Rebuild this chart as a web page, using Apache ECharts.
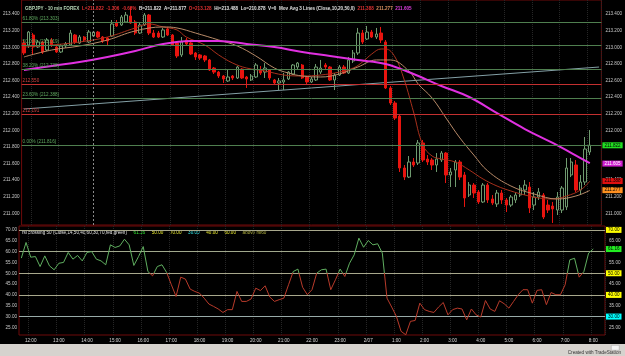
<!DOCTYPE html>
<html>
<head>
<meta charset="utf-8">
<script src="https://cdn.jsdelivr.net/npm/echarts@6/dist/echarts.min.js"></script>
<style>
  html, body { margin: 0; padding: 0; background: #000; }
  #chart { width: 625px; height: 356px; }
</style>
</head>
<body>
<div id="chart"></div>
<script>
// 10 min bars, 11:40 -> 8:20 (last two slots empty)
const categories = [];
for (let m = 11 * 60 + 40; m <= 32 * 60 + 20; m += 10) {
  categories.push((Math.floor(m / 60) % 24) + ":" + String(m % 60).padStart(2, "0"));
}

// [open, close, low, high]
const candles = [
  [213.051, 212.931, 212.907, 213.087], [213.027, 213.183, 212.991, 213.196],
  [213.147, 213.003, 212.907, 213.171], [213.003, 213.063, 212.991, 213.087], [213.063, 212.943, 212.919, 213.075],
  [212.967, 213.087, 212.955, 213.111], [213.087, 213.027, 213.003, 213.111], [213.003, 212.943, 212.931, 213.027],
  [212.943, 213.015, 212.931, 213.039], [213.015, 213.039, 212.991, 213.063], [213.027, 213.171, 213.015, 213.208],
  [213.147, 213.063, 213.039, 213.159], [213.051, 213.123, 213.039, 213.147], [213.123, 213.087, 213.063, 213.135],
  [213.063, 213.183, 213.051, 213.208], [213.135, 213.183, 213.123, 213.196], [213.183, 213.123, 213.111, 213.196],
  [213.123, 213.075, 213.051, 213.135], [213.111, 213.075, 213.027, 213.123], [213.135, 213.280, 213.123, 213.328],
  [213.292, 213.256, 213.244, 213.328], [213.268, 213.364, 213.256, 213.388], [213.304, 213.388, 213.292, 213.424],
  [213.376, 213.292, 213.280, 213.484], [213.304, 213.171, 213.147, 213.328], [213.171, 213.268, 213.159, 213.304],
  [213.268, 213.388, 213.256, 213.412], [213.388, 213.171, 213.147, 213.400], [213.171, 213.123, 213.111, 213.208],
  [213.171, 213.123, 213.111, 213.196], [213.123, 213.208, 213.111, 213.232], [213.220, 213.147, 213.135, 213.244],
  [213.147, 213.027, 213.015, 213.159], [213.051, 212.895, 212.871, 213.063], [212.907, 213.063, 212.883, 213.123],
  [213.087, 213.039, 213.015, 213.111], [213.051, 212.919, 212.907, 213.063], [212.931, 212.883, 212.847, 212.943],
  [212.907, 212.871, 212.847, 212.919], [212.895, 212.847, 212.822, 212.907], [212.847, 212.726, 212.714, 212.859],
  [212.750, 212.701, 212.678, 212.762], [212.701, 212.654, 212.630, 212.714], [212.654, 212.618, 212.570, 212.666],
  [212.594, 212.642, 212.582, 212.726], [212.654, 212.630, 212.606, 212.666], [212.630, 212.762, 212.618, 212.774],
  [212.738, 212.630, 212.618, 212.750], [212.642, 212.618, 212.510, 212.654], [212.606, 212.654, 212.594, 212.678],
  [212.642, 212.786, 212.630, 212.810], [212.726, 212.690, 212.666, 212.774], [212.701, 212.750, 212.630, 212.810],
  [212.726, 212.630, 212.606, 212.738], [212.606, 212.570, 212.546, 212.618], [212.570, 212.594, 212.485, 212.630],
  [212.582, 212.606, 212.485, 212.690], [212.618, 212.701, 212.606, 212.714], [212.678, 212.786, 212.666, 212.798],
  [212.762, 212.810, 212.738, 212.822], [212.786, 212.630, 212.618, 212.798], [212.642, 212.582, 212.558, 212.654],
  [212.582, 212.618, 212.570, 212.642], [212.606, 212.762, 212.594, 212.798], [212.701, 212.750, 212.678, 212.847],
  [212.786, 212.762, 212.738, 212.810], [212.762, 212.606, 212.594, 212.774], [212.606, 212.666, 212.485, 212.690],
  [212.666, 212.762, 212.654, 212.786], [212.762, 212.690, 212.678, 212.786], [212.690, 212.847, 212.678, 212.883],
  [212.834, 212.931, 212.810, 212.967], [212.931, 213.171, 212.907, 213.232], [213.171, 213.063, 213.039, 213.208],
  [213.099, 213.183, 213.087, 213.256], [213.183, 213.123, 213.111, 213.208], [213.123, 213.159, 213.099, 213.232],
  [213.171, 213.087, 213.051, 213.244], [213.063, 212.510, 212.497, 213.087], [212.510, 212.329, 212.305, 212.534],
  [212.329, 212.148, 212.124, 212.353], [212.172, 211.547, 211.499, 212.197], [211.547, 211.438, 211.402, 211.583],
  [211.438, 211.619, 211.426, 211.691], [211.619, 211.583, 211.559, 211.667], [211.607, 211.848, 211.583, 211.884],
  [211.848, 211.643, 211.619, 211.884], [211.655, 211.619, 211.583, 211.703], [211.643, 211.583, 211.523, 211.667],
  [211.583, 211.655, 211.499, 211.727], [211.643, 211.727, 211.619, 211.751], [211.727, 211.463, 211.366, 211.739],
  [211.463, 211.499, 211.318, 211.547], [211.523, 211.619, 211.318, 211.643], [211.619, 211.438, 211.402, 211.643],
  [211.463, 211.186, 211.078, 211.499], [211.222, 211.342, 211.198, 211.378], [211.342, 211.246, 211.186, 211.366],
  [211.258, 211.138, 211.114, 211.282], [211.138, 211.342, 211.126, 211.366], [211.342, 211.162, 211.126, 211.366],
  [211.174, 211.126, 211.101, 211.222], [211.114, 211.246, 211.078, 211.282], [211.246, 211.162, 211.114, 211.282],
  [211.162, 211.101, 211.017, 211.186], [211.101, 211.198, 211.078, 211.222], [211.162, 211.222, 211.126, 211.258],
  [211.222, 211.306, 211.198, 211.342], [211.282, 211.342, 211.222, 211.402], [211.318, 211.066, 211.005, 211.378],
  [211.101, 211.198, 211.041, 211.258], [211.198, 211.258, 211.162, 211.306], [211.222, 210.957, 210.933, 211.246],
  [211.101, 211.041, 211.005, 211.162], [211.089, 211.054, 210.885, 211.138], [211.041, 211.198, 210.981, 211.258],
  [211.041, 211.306, 211.005, 211.330], [211.078, 211.547, 211.041, 211.667], [211.463, 211.619, 211.438, 211.667],
  [211.583, 211.282, 211.258, 211.643], [211.282, 211.378, 211.222, 211.463], [211.378, 211.775, 211.342, 211.920],
  [211.739, 211.822, 211.703, 212.004]
];

// moving averages
const ma10 = [
  ["11:40", 213.003], ["12:40", 213.027], ["13:40", 213.063], ["14:40", 213.123], ["15:40", 213.232],
  ["16:10", 213.280], ["16:40", 213.244], ["17:10", 213.208], ["17:30", 213.123], ["18:10", 213.027],
  ["18:40", 212.907], ["19:10", 212.810], ["19:40", 212.750], ["20:20", 212.714], ["21:00", 212.666],
  ["21:40", 212.654], ["22:20", 212.666], ["23:00", 212.701], ["23:30", 212.750], ["23:50", 212.822],
  ["0:10", 212.919], ["0:30", 212.979], ["0:40", 212.979], ["1:00", 212.883], ["1:20", 212.606],
  ["1:40", 212.221], ["2:00", 211.824], ["2:20", 211.691], ["2:40", 211.655], ["3:10", 211.619],
  ["3:40", 211.523], ["4:10", 211.414], ["4:40", 211.330], ["5:10", 211.270], ["5:40", 211.222],
  ["6:10", 211.186], ["6:40", 211.174], ["7:10", 211.210], ["7:40", 211.282], ["8:00", 211.388]
];
const ma20 = [
  ["11:40", 212.883], ["12:40", 212.967], ["13:40", 213.015], ["14:40", 213.087], ["15:40", 213.196],
  ["16:40", 213.244], ["17:10", 213.232], ["17:50", 213.171], ["18:40", 213.087], ["19:20", 213.015],
  ["20:00", 212.895], ["20:40", 212.750], ["21:10", 212.690], ["21:40", 212.654], ["22:20", 212.642],
  ["23:00", 212.678], ["23:40", 212.762], ["0:20", 212.847], ["0:50", 212.847], ["1:30", 212.714],
  ["1:50", 212.558], ["2:20", 212.389], ["2:50", 212.148], ["3:20", 211.908], ["3:50", 211.703],
  ["4:20", 211.511], ["5:10", 211.330], ["6:00", 211.234], ["6:50", 211.174], ["7:30", 211.210],
  ["8:00", 211.277]
];
const ma50 = [
  ["11:40", 212.726], ["12:40", 212.774], ["13:40", 212.822], ["14:40", 212.883], ["15:40", 212.955],
  ["16:40", 213.039], ["17:40", 213.075], ["18:40", 213.075], ["19:40", 213.039], ["20:40", 213.003],
  ["21:40", 212.943], ["22:40", 212.895], ["23:40", 212.847], ["0:40", 212.798], ["1:40", 212.678],
  ["2:40", 212.534], ["3:40", 212.401], ["4:40", 212.207], ["5:40", 212.016], ["6:40", 211.848],
  ["7:40", 211.667], ["8:00", 211.605]
];

const rsi = [
  57.0, 64.2,
  57.4, 57.7, 53.1, 58.0, 53.4, 51.6,
  54.6, 55.0, 59.6, 56.5, 58.2, 55.7,
  59.6, 60.0, 56.5, 55.7, 53.9, 63.1,
  61.9, 62.6, 65.7, 63.1, 53.6, 57.7,
  62.3, 50.8, 48.8, 53.1, 53.9, 50.3,
  44.7, 39.3, 48.2, 47.3, 42.7, 41.6,
  40.8, 38.5, 35.8, 34.7, 33.5, 31.9,
  33.2, 33.2, 41.6, 37.0, 37.0, 38.1,
  43.1, 42.0, 44.2, 39.0, 37.0, 37.8,
  38.5, 44.7, 50.8, 51.9, 43.5, 40.1,
  42.4, 50.0, 51.6, 51.9, 42.4, 47.0,
  51.9, 48.5, 54.6, 58.5, 66.2, 62.0,
  65.1, 63.1, 63.6, 59.3, 38.5, 34.4,
  30.1, 23.2, 21.6, 27.8, 28.2, 36.2,
  33.2, 32.4, 31.9, 34.4, 36.5, 30.8,
  33.2, 33.9, 33.5, 28.5, 33.5, 30.8,
  29.8, 37.4, 33.5, 32.4, 37.3, 35.9,
  33.9, 37.0, 40.1, 42.4, 42.4, 36.2,
  42.1, 42.4, 35.5, 41.1, 40.1, 40.1,
  44.7, 56.2, 56.9, 48.2, 50.8, 59.3,
  61.2
];

const fibLevels = [213.303, 213.019, 212.738, 212.388, 211.816];
const fibNames = ["61.80%", "50.00%", "38.20%", "23.60%", "0.00%"];
const redLevels = [212.550, 212.191];
const trendLine = [["11:40", 212.257], ["8:20", 212.762]];
const priceTicks = [211.0, 211.2, 211.4, 211.6, 211.8, 212.0, 212.2, 212.4, 212.6, 212.8, 213.0, 213.2, 213.4];
const rsiTicksLeft = [25, 30, 35, 40, 45, 50, 55, 60, 65, 70];
const rsiTicksRight = [25, 35, 45, 55, 65];
const rsiLevels = [70, 60, 50, 40, 30];
const lastClose = 211.822;
const lastRsi = 61.16;

const FONT = "Liberation Sans";
const FS = 4.6;
const hourTick = (i, v) => v.endsWith(":00");

// panel geometry
const RSI_TOP = 226, RSI_H = 109, RSI_MIN = 21.5, RSI_MAX = 71.8;

const chart = echarts.init(document.getElementById("chart"), null, { renderer: "canvas" });

function box(value, text, bg, fg) {
  return {
    yAxis: value,
    lineStyle: { color: "rgba(0,0,0,0)", width: 0 },
    label: {
      show: true, position: "end", distance: 1, formatter: text,
      backgroundColor: bg, color: fg, padding: [1, 2, 0, 2],
      fontSize: FS, fontFamily: FONT
    }
  };
}

const fibLines = fibLevels.map((v, k) => ({
  yAxis: v,
  lineStyle: { color: "#4f7f4f", width: 1, type: "solid" },
  label: {
    show: true, position: "insideStartTop", distance: 1,
    formatter: fibNames[k] + " (" + v.toFixed(3) + ")",
    color: "#5fa85f", fontSize: FS, fontFamily: FONT
  }
}));
const redLines = redLevels.map(v => ({
  yAxis: v,
  lineStyle: { color: "#c43030", width: 1, type: "solid" },
  label: {
    show: true, position: "insideStartTop", distance: 1,
    formatter: v.toFixed(3), color: "#d04040", fontSize: FS, fontFamily: FONT
  }
}));

const rsiLevelColors = { 70: "#a8a88c", 60: "#a0a88c", 50: "#a8a88c", 40: "#a8a88c", 30: "#98aaa8" };
const rsiBoxes = { 70: "#ffff00", 50: "#ffff00", 40: "#ffff00", 30: "#00ffff" };
const rsiLines = rsiLevels.map(v => {
  const item = {
    yAxis: v,
    lineStyle: { color: rsiLevelColors[v], width: 1, type: "solid" },
    label: { show: false }
  };
  if (rsiBoxes[v]) {
    item.label = {
      show: true, position: "end", distance: 1, formatter: v.toFixed(2),
      backgroundColor: rsiBoxes[v], color: "#000", padding: [1, 2, 0, 2],
      fontSize: FS, fontFamily: FONT
    };
  }
  return item;
});
rsiLines.push(box(lastRsi, lastRsi.toFixed(2), "#22ee22", "#000"));

// rsi line: green above 50, red below (gradient in pixel space of the rsi panel)
const cut = (RSI_MAX - 50) / (RSI_MAX - RSI_MIN);
const rsiColor = new echarts.graphic.LinearGradient(0, RSI_TOP, 0, RSI_TOP + RSI_H, [
  { offset: 0, color: "#5fae5f" }, { offset: cut, color: "#5fae5f" },
  { offset: cut, color: "#b83a2a" }, { offset: 1, color: "#b83a2a" }
], true);

const axisText = { color: "#c8c8c8", fontSize: FS, fontFamily: FONT };

chart.setOption({
  animation: false,
  backgroundColor: "#000",
  title: {
    left: 20, top: 1,
    text: "{g|GBPJPY - 10 min FOREX}  {r|L=211.822  -1.306  -0.63%}  {w|B=211.822  A=211.877}  {r|O=213.128}  {w|Hi=213.488  Lo=210.878  V=0  Mov Avg 3 Lines (Close,10,20,50,0)}  {r|211.388}  {o|211.277}  {m|211.605}",
    textStyle: {
      fontSize: FS, fontFamily: FONT, color: "#ddd",
      rich: {
        g: { color: "#b8d8b8", fontSize: FS, fontFamily: FONT },
        w: { color: "#e0e0e0", fontSize: FS, fontFamily: FONT },
        r: { color: "#e03030", fontSize: FS, fontFamily: FONT },
        o: { color: "#d89060", fontSize: FS, fontFamily: FONT },
        m: { color: "#e040e0", fontSize: FS, fontFamily: FONT }
      }
    }
  },
  grid: [
    { left: 19, right: 20, top: 0, height: 225, show: true, borderColor: "#6e0a0a", borderWidth: 1, backgroundColor: "#000" },
    { left: 19, right: 20, top: RSI_TOP, height: RSI_H, show: true, borderColor: "#6e0a0a", borderWidth: 1, backgroundColor: "#000" }
  ],
  xAxis: [
    {
      type: "category", gridIndex: 0, data: categories, boundaryGap: true,
      axisLine: { show: false }, axisTick: { show: false }, axisLabel: { show: false },
      splitLine: { show: true, interval: hourTick, lineStyle: { color: "#262626", type: "dotted" } }
    },
    {
      type: "category", gridIndex: 1, data: categories, boundaryGap: true,
      axisLine: { show: false }, axisTick: { show: false },
      axisLabel: {
        interval: hourTick, margin: 3, ...axisText, color: "#d8d8d8",
        formatter: v => (v === "0:00" ? "2/07" : v)
      },
      splitLine: { show: true, interval: hourTick, lineStyle: { color: "#262626", type: "dotted" } }
    }
  ],
  yAxis: [
    {
      type: "value", gridIndex: 0, position: "left", min: 210.861, max: 213.5685, scale: true,
      axisLine: { show: false }, axisTick: { show: false }, splitLine: { show: false },
      axisLabel: { customValues: priceTicks, margin: 2, formatter: v => v.toFixed(3), ...axisText }
    },
    {
      type: "value", gridIndex: 0, position: "right", min: 210.861, max: 213.5685, scale: true,
      axisLine: { show: false }, axisTick: { show: false }, splitLine: { show: false },
      axisLabel: { customValues: priceTicks, margin: 4, formatter: v => v.toFixed(3), ...axisText }
    },
    {
      type: "value", gridIndex: 1, position: "left", min: RSI_MIN, max: RSI_MAX,
      axisLine: { show: false }, axisTick: { show: false }, splitLine: { show: false },
      axisLabel: { customValues: rsiTicksLeft, margin: 2, formatter: v => v.toFixed(2), ...axisText }
    },
    {
      type: "value", gridIndex: 1, position: "right", min: RSI_MIN, max: RSI_MAX,
      axisLine: { show: false }, axisTick: { show: false }, splitLine: { show: false },
      axisLabel: { customValues: rsiTicksRight, margin: 4, formatter: v => v.toFixed(2), ...axisText }
    }
  ],
  series: [
    {
      name: "GBPJPY", type: "candlestick", xAxisIndex: 0, yAxisIndex: 0,
      data: candles, barWidth: "62%",
      itemStyle: {
        color: "#000", color0: "#e8140f",
        borderColor: "#6f9a6f", borderColor0: "#e8140f", borderWidth: 1
      },
      markLine: {
        silent: true, symbol: "none", animation: false,
        data: [...fibLines, ...redLines, box(lastClose, lastClose.toFixed(3), "#22dd22", "#000"),
          { xAxis: "14:10", lineStyle: { color: "#8a8a8a", type: [2, 2], width: 1 }, label: { show: false } }]
      }
    },
    {
      name: "trend", type: "line", xAxisIndex: 0, yAxisIndex: 0, data: trendLine,
      symbol: "none", lineStyle: { color: "#84a0a6", width: 1 }, z: 1
    },
    {
      name: "MA10", type: "line", xAxisIndex: 0, yAxisIndex: 0, data: ma10, smooth: 0.4,
      connectNulls: true, symbol: "none", lineStyle: { color: "#a8301c", width: 1 },
      markLine: { silent: true, symbol: "none", data: [box(211.388, "211.388", "#e01010", "#000")] }
    },
    {
      name: "MA20", type: "line", xAxisIndex: 0, yAxisIndex: 0, data: ma20, smooth: 0.4,
      connectNulls: true, symbol: "none", lineStyle: { color: "#b88a68", width: 1 },
      markLine: { silent: true, symbol: "none", data: [box(211.277, "211.277", "#ff9020", "#000")] }
    },
    {
      name: "MA50", type: "line", xAxisIndex: 0, yAxisIndex: 0, data: ma50, smooth: 0.4,
      connectNulls: true, symbol: "none", lineStyle: { color: "#e030e0", width: 2 },
      markLine: { silent: true, symbol: "none", data: [box(211.605, "211.605", "#d020d0", "#fff")] }
    },
    {
      name: "RSI", type: "line", xAxisIndex: 1, yAxisIndex: 2, data: rsi,
      symbol: "none", lineStyle: { width: 1, color: rsiColor }, z: 3,
      markLine: { silent: true, symbol: "none", z: 2, data: rsiLines }
    }
  ],
  graphic: [
    {
      type: "text", left: 22, top: 227, silent: true,
      style: {
        rich: {
          w: { fill: "#e0e0e0", fontSize: FS, fontFamily: FONT },
          g: { fill: "#33ee33", fontSize: FS, fontFamily: FONT },
          y: { fill: "#e8e830", fontSize: FS, fontFamily: FONT },
          c: { fill: "#30e8e8", fontSize: FS, fontFamily: FONT },
          o: { fill: "#b0b040", fontSize: FS, fontFamily: FONT }
        },
        text: "{w|rsi crossing 50 (Close,14,50,40,60,30,70,red,green)}  {g|61.16}  {y|50.00}  {y|70.00}  {c|30.00}  {y|40.00}  {y|60.00}  {o|above rsi60}"
      }
    },
    { type: "rect", left: 0, top: 344, shape: { width: 625, height: 12 }, style: { fill: "#d6d3ce" }, silent: true },
    { type: "rect", left: 611, top: 345, shape: { width: 8, height: 5 }, style: { fill: "#f4f4f4", stroke: "#999", lineWidth: 0.5 }, silent: true },
    {
      type: "text", right: 4, top: 350, silent: true,
      style: { text: "Created with TradeStation", fill: "#333", fontSize: FS, fontFamily: FONT }
    }
  ]
});
</script>
</body>
</html>
